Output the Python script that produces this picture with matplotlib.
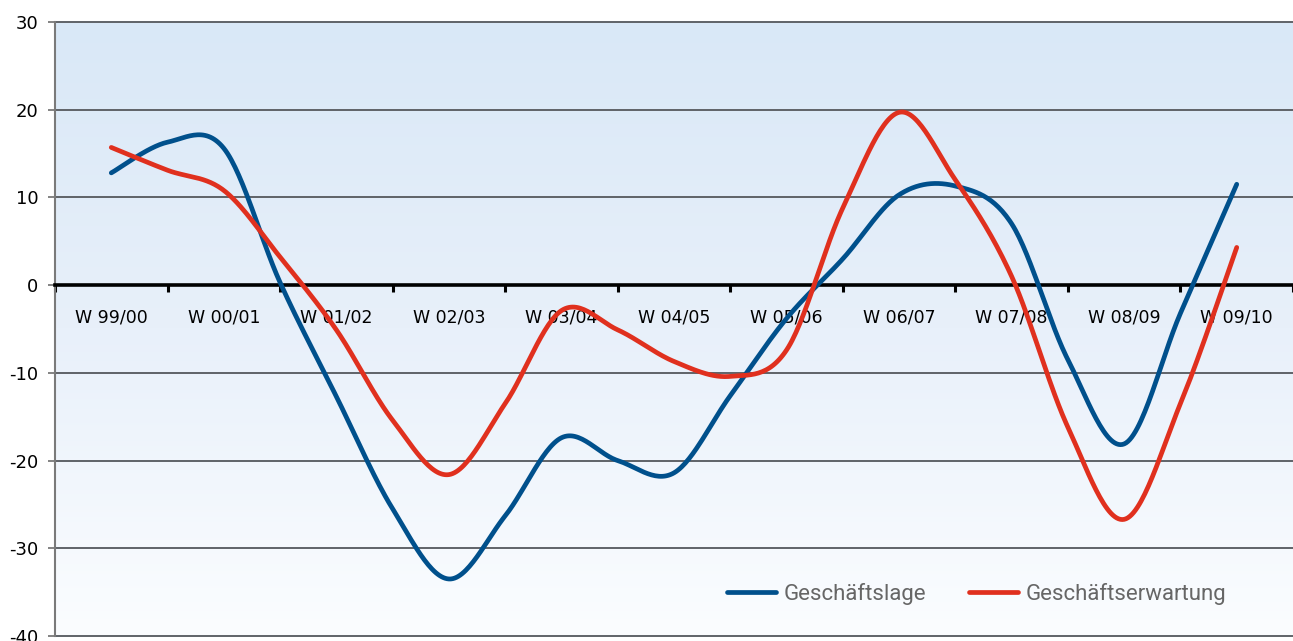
import numpy as np
import matplotlib
matplotlib.use("Agg")
import matplotlib.pyplot as plt
from matplotlib.colors import LinearSegmentedColormap

plt.rcParams["axes.unicode_minus"] = False

# ---- data (half-year steps, labelled every winter) ---------------------------
labels = ["W 99/00", "W 00/01", "W 01/02", "W 02/03", "W 03/04", "W 04/05",
          "W 05/06", "W 06/07", "W 07/08", "W 08/09", "W 09/10"]
lage = [12.8, 16.3, 15.6, 0.3, -12.7, -25.5, -33.5, -26.3, -17.4, -20.0, -21.4,
        -12.6, -3.8, 3.0, 10.3, 11.3, 7.0, -8.5, -18.1, -3.2, 11.5]
erwartung = [15.7, 13.1, 10.8, 3.2, -5.1, -15.4, -21.6, -13.5, -2.9, -5.1, -8.7,
             -10.4, -7.4, 8.8, 19.7, 12.0, 1.0, -16.2, -26.7, -13.5, 4.3]

BLUE = "#00508c"
RED = "#e0301e"


def smooth(x, y, n=30):
    # Catmull-Rom curve through the points (like the "smoothed line" option)
    p = np.column_stack([x, y])
    p = np.vstack([p[0], p, p[-1]])
    out = []
    t = np.linspace(0, 1, n, endpoint=False)[:, None]
    for i in range(1, len(p) - 2):
        p0, p1, p2, p3 = p[i - 1], p[i], p[i + 1], p[i + 2]
        m1 = (p2 - p0) / 2
        m2 = (p3 - p1) / 2
        h00 = 2 * t**3 - 3 * t**2 + 1
        h10 = t**3 - 2 * t**2 + t
        h01 = -2 * t**3 + 3 * t**2
        h11 = t**3 - t**2
        out.append(h00 * p1 + h10 * m1 + h01 * p2 + h11 * m2)
    out.append(p[-2][None, :])
    out = np.vstack(out)
    return out[:, 0], out[:, 1]


x = np.arange(len(lage)) * 0.5

fig = plt.figure(figsize=(12.93, 6.41), dpi=100)
ax = fig.add_axes([55 / 1293, 1 - 636 / 641, 1 - 55 / 1293, (636 - 22) / 641])

# background gradient
cmap = LinearSegmentedColormap.from_list("bg", ["#fbfdff", "#e8f0fa", "#d9e8f7"])
grad = np.linspace(0, 1, 256)[:, None]
ax.imshow(grad, cmap=cmap, aspect="auto", extent=[0, 1, 0, 1],
          transform=ax.transAxes, origin="lower", zorder=0)

ax.set_xlim(-0.5, 10.5)
ax.set_ylim(-40, 30)

for v in range(-40, 31, 10):
    if v != 0:
        ax.axhline(v, color="#5f6368", lw=1.4, zorder=1, clip_on=False)

xs, ys = smooth(x, lage)
ax.plot(xs, ys, color=BLUE, lw=3.4, solid_capstyle="round", zorder=4, label="Geschäftslage")
xs, ys = smooth(x, erwartung)
ax.plot(xs, ys, color=RED, lw=3.4, solid_capstyle="round", zorder=4, label="Geschäftserwartung")

# axes styling
for s in ["top", "right"]:
    ax.spines[s].set_visible(False)
ax.spines["left"].set_color("#7a7a7a")
ax.spines["left"].set_linewidth(1.5)
ax.spines["bottom"].set_position(("data", 0))
ax.spines["bottom"].set_color("black")
ax.spines["bottom"].set_linewidth(2.6)
ax.spines["bottom"].set_zorder(3)

ax.set_yticks(range(-40, 31, 10))
ax.tick_params(axis="y", direction="out", length=5, width=1.3, color="#7a7a7a",
               labelsize=13, pad=7)
ax.set_xticks(np.arange(-0.5, 11, 1))
ax.set_xticklabels([])
ax.tick_params(axis="x", which="major", direction="out", length=5, width=2.2, color="black")
ax.set_xticks(np.arange(len(labels)), minor=True)
ax.set_xticklabels(labels, minor=True)
ax.tick_params(axis="x", which="minor", length=0, labelsize=12.5, pad=17)

ax.legend(loc="center right", bbox_to_anchor=(0.955, 0.068), ncol=2, frameon=False,
          handlelength=2.2, handletextpad=0.35, columnspacing=1.9, borderpad=0,
          prop={"family": "Roboto", "size": 16},
          labelcolor="#666666")

fig.savefig("out.png", dpi=100)
